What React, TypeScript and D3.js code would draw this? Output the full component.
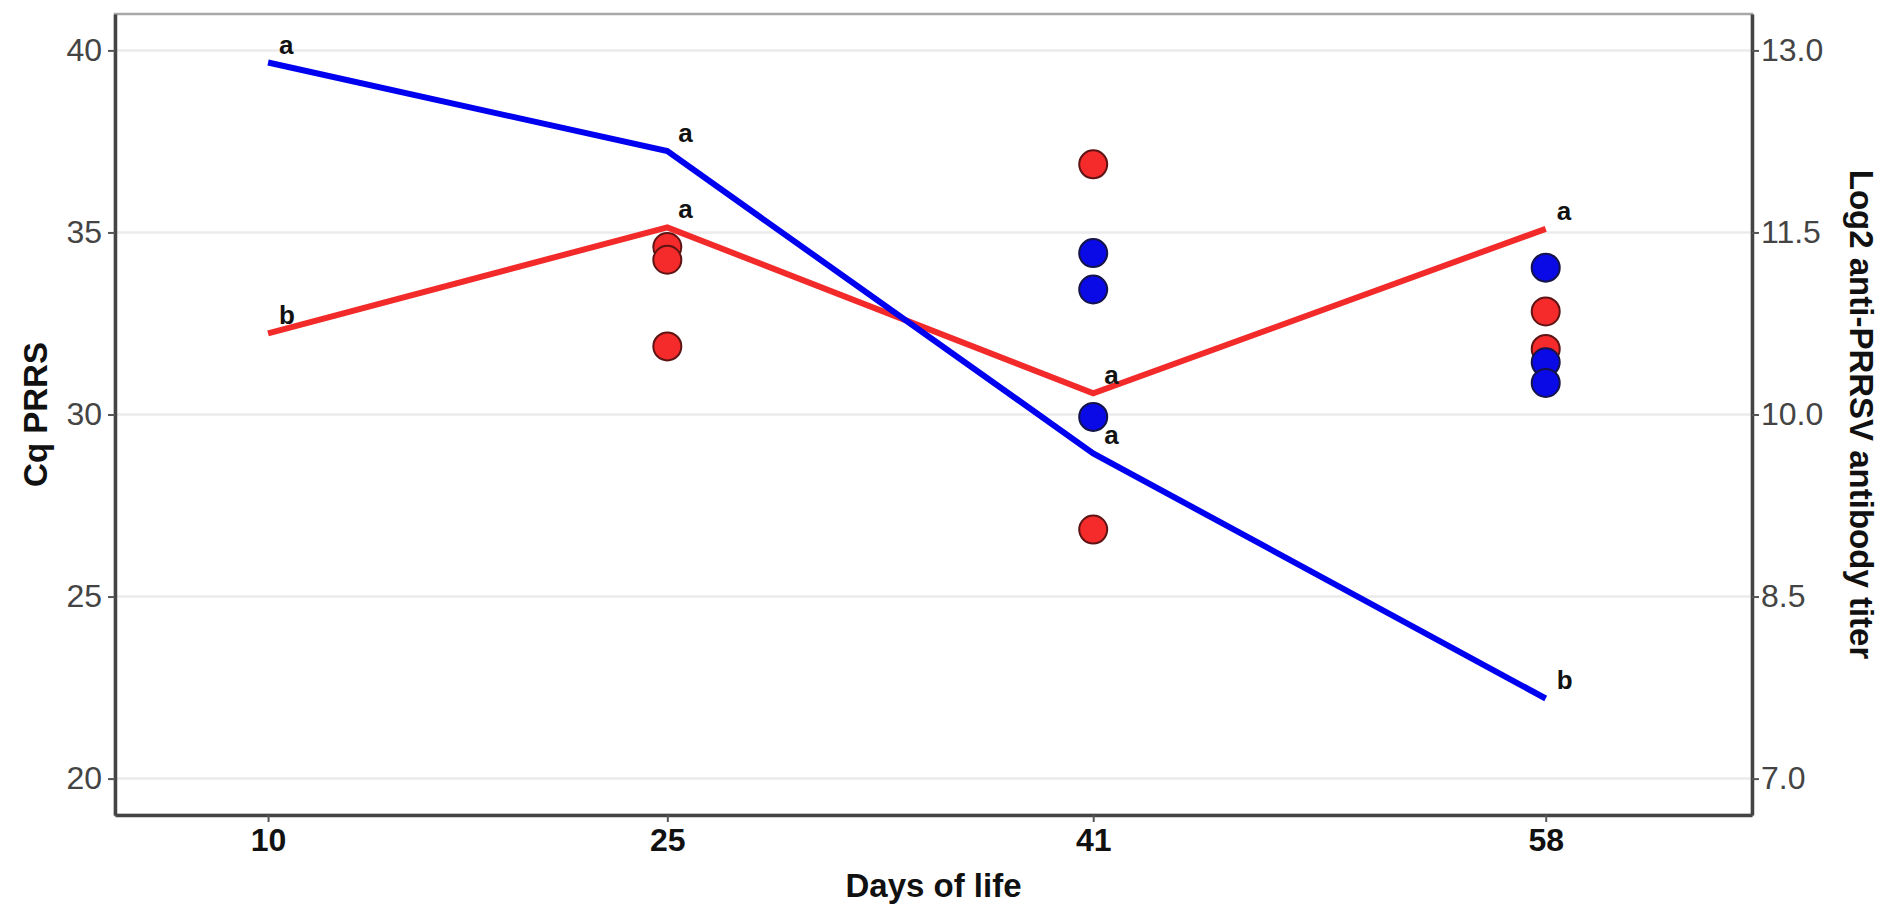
import React, { useEffect, useRef } from "react";
import * as d3 from "d3";

// days on the x axis
const days = [10, 25, 41, 58];

// mean Cq PRRS (left axis), red line
const cqMean = [32.23, 35.14, 30.58, 35.1];
const cqLetters = ["b", "a", "a", "a"];

// mean Log2 anti-PRRSV antibody titer (right axis), blue line
const titerMean = [12.9, 12.17, 9.68, 7.66];
const titerLetters = ["a", "a", "a", "b"];

// individual Cq values (red points)
const cqPointDays = [25, 25, 25, 41, 41, 58, 58];
const cqPointValues = [34.6, 34.25, 31.87, 36.87, 26.84, 32.83, 31.8];

// individual titers (blue points)
const titerPointDays = [41, 41, 41, 58, 58, 58];
const titerPointValues = [11.33, 11.03, 9.98, 11.21, 10.43, 10.26];

const leftTicks = [20, 25, 30, 35, 40];
const rightTicks = [7.0, 8.5, 10.0, 11.5, 13.0];

const App = () => {
  const svgRef = useRef(null);

  useEffect(() => {
    const width = 1894;
    const height = 904;
    const margin = { top: 14, right: 142, bottom: 89, left: 115 };
    const font = "'Liberation Sans', Arial, sans-serif";

    const svg = d3.select(svgRef.current);
    svg.selectAll("*").remove();

    const x = d3.scaleLinear().domain([4.25, 65.75]).range([margin.left, width - margin.right]);
    const y = d3.scaleLinear().domain([19, 41]).range([height - margin.bottom, margin.top]);
    // secondary axis: titer = 7 + 0.3 * (Cq - 20)
    const y2 = d3.scaleLinear().domain([6.7, 13.3]).range([height - margin.bottom, margin.top]);

    const x0 = margin.left;
    const x1 = width - margin.right;
    const yTop = margin.top;
    const yBot = height - margin.bottom;

    // grid
    svg
      .append("g")
      .selectAll("line")
      .data(leftTicks)
      .enter()
      .append("line")
      .attr("x1", x0)
      .attr("x2", x1)
      .attr("y1", (d) => y(d))
      .attr("y2", (d) => y(d))
      .attr("stroke", "#ebebeb")
      .attr("stroke-width", 2.5);

    // panel border (light) then axis lines (dark)
    svg
      .append("rect")
      .attr("x", x0)
      .attr("y", yTop)
      .attr("width", x1 - x0)
      .attr("height", yBot - yTop)
      .attr("fill", "none")
      .attr("stroke", "#a8a8a8")
      .attr("stroke-width", 2.5);

    // left axis
    const gl = svg
      .append("g")
      .attr("transform", "translate(" + x0 + ",0)")
      .call(d3.axisLeft(y).tickValues(leftTicks).tickSize(7).tickSizeOuter(0).tickPadding(6).tickFormat(d3.format("d")));
    gl.select(".domain").attr("stroke", "#444").attr("stroke-width", 3.5);
    gl.selectAll(".tick line").attr("stroke", "#555").attr("stroke-width", 2);
    gl.selectAll(".tick text").attr("fill", "#444").style("font-size", "32px").style("font-family", font);

    // right axis
    const gr = svg
      .append("g")
      .attr("transform", "translate(" + x1 + ",0)")
      .call(d3.axisRight(y2).tickValues(rightTicks).tickSize(7).tickSizeOuter(0).tickPadding(2).tickFormat(d3.format(".1f")));
    gr.select(".domain").attr("stroke", "#444").attr("stroke-width", 3.5);
    gr.selectAll(".tick line").attr("stroke", "#555").attr("stroke-width", 2);
    gr.selectAll(".tick text").attr("fill", "#444").style("font-size", "32px").style("font-family", font);

    // bottom axis
    const gb = svg
      .append("g")
      .attr("transform", "translate(0," + yBot + ")")
      .call(d3.axisBottom(x).tickValues(days).tickSize(7).tickSizeOuter(0).tickPadding(6).tickFormat(d3.format("d")));
    gb.select(".domain").attr("stroke", "#444").attr("stroke-width", 3.5);
    gb.selectAll(".tick line").attr("stroke", "#555").attr("stroke-width", 2);
    gb.selectAll(".tick text")
      .attr("fill", "#111")
      .style("font-size", "32px")
      .style("font-weight", "bold")
      .style("font-family", font);

    // red points
    svg
      .append("g")
      .selectAll("circle")
      .data(cqPointValues)
      .enter()
      .append("circle")
      .attr("cx", (d, i) => x(cqPointDays[i]))
      .attr("cy", (d) => y(d))
      .attr("r", 14)
      .attr("fill", "#f52a2a")
      .attr("stroke", "#5e1414")
      .attr("stroke-width", 2);

    // blue points
    svg
      .append("g")
      .selectAll("circle")
      .data(titerPointValues)
      .enter()
      .append("circle")
      .attr("cx", (d, i) => x(titerPointDays[i]))
      .attr("cy", (d) => y2(d))
      .attr("r", 14)
      .attr("fill", "#0a0ae6")
      .attr("stroke", "#14144a")
      .attr("stroke-width", 2);

    // lines
    const redLine = d3
      .line()
      .x((d, i) => x(days[i]))
      .y((d) => y(d));
    svg
      .append("path")
      .attr("d", redLine(cqMean))
      .attr("fill", "none")
      .attr("stroke", "#f22a2a")
      .attr("stroke-width", 6);

    const blueLine = d3
      .line()
      .x((d, i) => x(days[i]))
      .y((d) => y2(d));
    svg
      .append("path")
      .attr("d", blueLine(titerMean))
      .attr("fill", "none")
      .attr("stroke", "#0000f0")
      .attr("stroke-width", 6);

    // significance letters
    const letters = (vals, labs, scale) =>
      svg
        .append("g")
        .selectAll("text")
        .data(vals)
        .enter()
        .append("text")
        .attr("x", (d, i) => x(days[i]) + 11)
        .attr("y", (d) => scale(d) - 9)
        .text((d, i) => labs[i])
        .style("font-size", "26px")
        .style("font-weight", "bold")
        .style("font-family", font)
        .attr("fill", "#111");
    letters(cqMean, cqLetters, y);
    letters(titerMean, titerLetters, y2);

    // axis titles
    svg
      .append("text")
      .attr("x", (x0 + x1) / 2)
      .attr("y", 897)
      .attr("text-anchor", "middle")
      .text("Days of life")
      .style("font-size", "33px")
      .style("font-weight", "bold")
      .style("font-family", font)
      .attr("fill", "#111");

    svg
      .append("text")
      .attr("transform", "translate(47," + (yTop + yBot) / 2 + ") rotate(-90)")
      .attr("text-anchor", "middle")
      .text("Cq PRRS")
      .style("font-size", "33px")
      .style("font-weight", "bold")
      .style("font-family", font)
      .attr("fill", "#111");

    svg
      .append("text")
      .attr("transform", "translate(1850," + (yTop + yBot) / 2 + ") rotate(90)")
      .attr("text-anchor", "middle")
      .text("Log2 anti-PRRSV antibody titer")
      .style("font-size", "33px")
      .style("font-weight", "bold")
      .style("font-family", font)
      .attr("fill", "#111");
  }, []);

  return (
    <div>
      <style>{"body{margin:0;background:#fff}"}</style>
      <svg ref={svgRef} width="1894" height="904" style={{ display: "block", background: "#fff" }}></svg>
    </div>
  );
};

export default App;
